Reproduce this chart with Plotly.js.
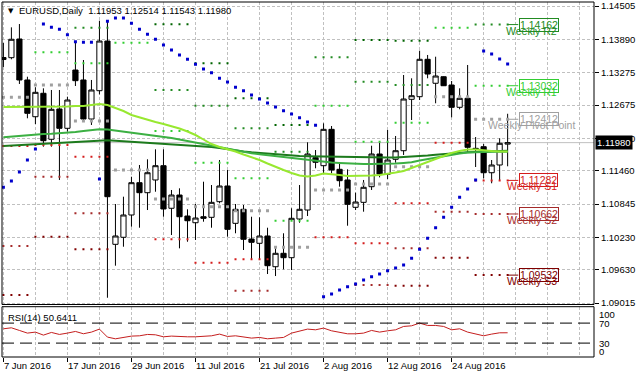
<!DOCTYPE html>
<html>
<head>
<meta charset="utf-8">
<script src="https://cdn.plot.ly/plotly-3.0.1.min.js"></script>
<style>
html,body{margin:0;padding:0;background:#fff;}
#chart{width:636px;height:379px;}
</style>
</head>
<body>
<div id="chart"></div>
<script>
// ---------------- DATA ----------------
const dates = [
 '2016-06-07','2016-06-08','2016-06-09','2016-06-10','2016-06-13','2016-06-14','2016-06-15','2016-06-16','2016-06-17',
 '2016-06-20','2016-06-21','2016-06-22','2016-06-23','2016-06-24','2016-06-27','2016-06-28','2016-06-29','2016-06-30',
 '2016-07-01','2016-07-04','2016-07-05','2016-07-06','2016-07-07','2016-07-08','2016-07-11','2016-07-12','2016-07-13',
 '2016-07-14','2016-07-15','2016-07-18','2016-07-19','2016-07-20','2016-07-21','2016-07-22','2016-07-25','2016-07-26',
 '2016-07-27','2016-07-28','2016-07-29','2016-08-01','2016-08-02','2016-08-03','2016-08-04','2016-08-05','2016-08-08',
 '2016-08-09','2016-08-10','2016-08-11','2016-08-12','2016-08-15','2016-08-16','2016-08-17','2016-08-18','2016-08-19',
 '2016-08-22','2016-08-23','2016-08-24','2016-08-25','2016-08-26','2016-08-29','2016-08-30','2016-08-31','2016-09-01',
 '2016-09-02'];

const open = [1.13516,1.13550,1.13895,1.13138,1.12459,1.12892,1.12042,1.12602,1.12245,1.13322,1.13138,1.12417,1.12940,1.13858,
 1.10101,1.10231,1.10643,1.11240,1.11055,1.11290,1.11554,1.10767,1.11012,1.10624,1.10500,1.10611,1.10600,1.10889,1.11179,
 1.10489,1.10748,1.10199,1.10120,1.10255,1.09687,1.09935,1.09854,1.10569,1.10735,1.11702,1.11554,1.12226,1.11487,1.11290,
 1.10785,1.10877,1.11166,1.11770,1.11395,1.11672,1.11831,1.12781,1.12829,1.13520,1.13077,1.13198,1.13045,1.12633,1.12799,
 1.11875,1.11905,1.11424,1.11567,1.11953];
const high = [1.13821,1.14111,1.14172,1.13198,1.13003,1.12984,1.12953,1.12953,1.12829,1.13845,1.13507,1.13138,1.14233,1.14246,
 1.10846,1.10981,1.11350,1.11567,1.11672,1.11857,1.11857,1.11105,1.11136,1.10748,1.10846,1.11258,1.11197,1.11659,1.11474,
 1.10846,1.10828,1.10611,1.10600,1.10408,1.10027,1.10305,1.10767,1.11197,1.11986,1.11844,1.12337,1.12287,1.11598,1.11487,
 1.11055,1.11290,1.11923,1.11979,1.12214,1.12103,1.13230,1.13169,1.13679,1.13600,1.13568,1.13206,1.13119,1.12984,1.13415,
 1.12084,1.11955,1.11659,1.12060,1.12514];
const low = [1.13378,1.13520,1.13064,1.12430,1.12324,1.11905,1.11905,1.11290,1.12182,1.13027,1.12367,1.12306,1.12873,1.09114,
 1.09706,1.10057,1.10427,1.10408,1.10735,1.11073,1.10611,1.10273,1.10027,1.10149,1.10181,1.10519,1.10408,1.10859,1.10242,
 1.10305,1.09996,1.09811,1.09811,1.09552,1.09515,1.09639,1.09626,1.10500,1.10624,1.11506,1.11413,1.11413,1.11166,1.10445,
 1.10735,1.10704,1.11105,1.11339,1.11308,1.11609,1.11752,1.12398,1.12768,1.13169,1.12707,1.13027,1.12448,1.12596,1.11812,
 1.11530,1.11321,1.11229,1.11290,1.11543];
const close = [1.13553,1.13890,1.13138,1.12522,1.12910,1.12016,1.12596,1.12245,1.12768,1.13125,1.12417,1.12953,1.13858,1.10981,
 1.10255,1.10643,1.11240,1.11055,1.11424,1.11554,1.10754,1.11012,1.10611,1.10537,1.10587,1.10582,1.10877,1.11179,1.10378,
 1.10748,1.10194,1.10138,1.10255,1.09706,1.09935,1.09854,1.10582,1.10748,1.11770,1.11617,1.12226,1.11474,1.11277,1.10840,
 1.10883,1.11155,1.11770,1.11400,1.11659,1.11831,1.12786,1.12847,1.13520,1.13248,1.13211,1.13032,1.12633,1.12799,1.11894,
 1.11853,1.11424,1.11567,1.11968,1.11980];

const maFast = [1.12639,1.12639,1.12639,1.12639,1.12639,1.12639,1.12639,1.12639,1.12648,1.12657,1.12657,1.12676,1.12694,1.12676,
 1.12620,1.12565,1.12491,1.12445,1.12398,1.12361,1.12324,1.12287,1.12241,1.12186,1.12121,1.12038,1.11955,1.11899,1.11862,
 1.11816,1.11761,1.11715,1.11659,1.11594,1.11530,1.11474,1.11419,1.11373,1.11354,1.11373,1.11410,1.11400,1.11382,1.11363,
 1.11363,1.11373,1.11373,1.11382,1.11400,1.11428,1.11456,1.11511,1.11567,1.11622,1.11678,1.11733,1.11789,1.11825,1.11853,
 1.11853,1.11835,1.11825,1.11816,1.11816];
const maMid = [1.12079,1.12093,1.12108,1.12121,1.12134,1.12140,1.12145,1.12153,1.12162,1.12177,1.12195,1.12214,1.12226,1.12223,
 1.12204,1.12186,1.12164,1.12149,1.12134,1.12117,1.12093,1.12066,1.12038,1.12010,1.11979,1.11946,1.11912,1.11890,1.11862,
 1.11835,1.11807,1.11785,1.11766,1.11748,1.11729,1.11711,1.11692,1.11672,1.11654,1.11635,1.11622,1.11611,1.11604,1.11594,
 1.11589,1.11585,1.11585,1.11585,1.11589,1.11594,1.11604,1.11617,1.11650,1.11678,1.11705,1.11733,1.11757,1.11779,1.11798,
 1.11807,1.11812,1.11812,1.11812,1.11812];
const maSlow = [1.11918,1.11927,1.11936,1.11946,1.11955,1.11960,1.11966,1.11973,1.11979,1.11992,1.12005,1.12016,1.12025,1.12025,
 1.12016,1.12007,1.11995,1.11986,1.11979,1.11970,1.11960,1.11951,1.11942,1.11933,1.11923,1.11912,1.11899,1.11881,1.11857,
 1.11835,1.11816,1.11801,1.11789,1.11774,1.11761,1.11752,1.11742,1.11733,1.11729,1.11726,1.11722,1.11720,1.11715,1.11709,
 1.11705,1.11702,1.11702,1.11702,1.11704,1.11707,1.11713,1.11720,1.11729,1.11742,1.11755,1.11770,1.11783,1.11794,1.11803,
 1.11809,1.11812,1.11820,1.11825,1.11831];

const sar = [1.11155,1.11271,1.11437,1.11659,1.11862,1.14172,1.14111,1.14074,1.13975,1.13845,1.13834,1.13834,1.11308,1.14222,
 1.14283,1.14283,1.14185,1.14074,1.13982,1.13890,1.13784,1.13692,1.13600,1.13520,1.13428,1.13341,1.13272,1.13169,1.13101,
 1.13003,1.12940,1.12860,1.12786,1.12713,1.12639,1.12570,1.12509,1.12441,1.12361,1.12300,1.09133,1.09183,1.09257,1.09318,
 1.09368,1.09442,1.09503,1.09552,1.09613,1.09663,1.09719,1.09843,1.10009,1.10212,1.10408,1.10600,1.10785,1.10970,1.11123,
 1.11290,1.13673,1.13618,1.13526,1.13433];

const rsi = [58.6,60.6,55.3,50.0,52.0,46.0,51.3,47.3,50.0,53.3,48.7,52.0,58.0,42.0,38.6,41.3,44.0,44.6,47.3,46.6,42.6,44.0,
 42.6,42.6,42.6,43.3,44.6,48.0,43.3,44.6,42.0,40.0,41.3,38.6,40.0,41.3,50.0,53.3,58.0,56.6,60.0,54.6,52.0,48.6,48.6,50.0,
 55.3,52.0,54.6,56.6,63.3,64.6,70.0,65.3,65.3,63.3,56.6,58.6,52.0,48.6,44.6,48.0,50.6,50.6411];

// weekly pivot levels, one value per calendar week shown (null = off the chart)
const weekR3 = [null,null,null,null,1.14167,1.13446,1.12799,1.12306,null,1.13877,1.13864,null,null];
const weekR2 = [null,null,1.14104,null,1.12953,1.12663,1.12245,1.11812,1.13557,1.13106,1.13045,null,1.14162];
const weekR1 = [null,1.13649,1.13446,1.13827,1.12195,1.11609,1.11321,1.10537,1.12663,1.11997,1.12348,1.14104,1.13032];
const weekP  = [1.12818,1.13045,1.12380,1.11474,1.10938,1.10796,1.10722,1.10046,1.11105,1.11216,1.11535,1.12829,1.12412];
const weekS1 = [1.11918,1.11936,1.11720,null,1.10194,1.09761,1.09824,null,1.10231,1.10120,1.10859,1.11979,1.11282];
const weekS2 = [1.10070,1.11350,1.10674,null,null,null,1.09244,null,null,1.09349,1.10027,1.10704,1.10662];
const weekS3 = [1.09164,1.10242,1.10009,null,null,null,null,null,null,null,1.09336,1.09854,1.09532];

const priceTicks = [1.14505,1.13890,1.13275,1.12675,1.12060,1.11460,1.10845,1.10230,1.09630,1.09015];
const tickDates = ['2016-06-07','2016-06-17','2016-06-29','2016-07-11','2016-07-21','2016-08-02','2016-08-12','2016-08-24'];
const rsiLevels = [70, 30];
const rsiScale = [100, 70, 30, 0];

// ---------------- BUILD ----------------
const idx = dates.map((d, i) => i);
const last = idx.length - 1;
const MON = ['Jan','Feb','Mar','Apr','May','Jun','Jul','Aug','Sep','Oct','Nov','Dec'];
const fmtDate = d => { const p = d.split('-'); return (+p[2]) + ' ' + MON[+p[1]-1] + ' ' + p[0]; };

const weekOf = [];
{ let w = -1, prev = null;
  dates.forEach(d => {
    const dt = new Date(d + 'T00:00:00Z');
    const mon = new Date(dt.getTime() - ((dt.getUTCDay() + 6) % 7) * 86400000).toISOString().slice(0,10);
    if (mon !== prev) { w++; prev = mon; }
    weekOf.push(w);
  });
}

const FONT = 'Liberation Sans, Arial, sans-serif';
const W = 636, H = 379, ML = 2, MR = 42, MT = 2, MB = 22;
const PX = px => (px - ML) / (W - ML - MR);
const PY = py => (H - MB - py) / (H - MT - MB);

const levelDefs = [
  {name:'Weekly R3', arr:weekR3, color:'#006400', size:2},
  {name:'Weekly R2', arr:weekR2, color:'#228b22', size:2},
  {name:'Weekly R1', arr:weekR1, color:'#32cd32', size:2},
  {name:'Weekly Pivot Point', arr:weekP, color:'#a0a0a0', size:3},
  {name:'Weekly S1', arr:weekS1, color:'#d41c1c', size:2},
  {name:'Weekly S2', arr:weekS2, color:'#a52a2a', size:2},
  {name:'Weekly S3', arr:weekS3, color:'#800000', size:2}
];

const traces = [];
traces.push({
  type:'candlestick', x: idx, open, high, low, close, xaxis:'x', yaxis:'y',
  increasing:{line:{color:'#000', width:1}, fillcolor:'#ffffff'},
  decreasing:{line:{color:'#000', width:1}, fillcolor:'#000000'},
  whiskerwidth:0, hoverinfo:'skip'
});

levelDefs.forEach(L => {
  const xs = [], ys = [];
  idx.forEach(i => { const v = L.arr[weekOf[i]]; if (v != null) { xs.push(i); ys.push(v); } });
  traces.push({type:'scatter', mode:'markers', x:xs, y:ys, xaxis:'x', yaxis:'y',
    marker:{symbol:'square', size:L.size, color:L.color, line:{width:0}}, hoverinfo:'skip'});
});

[[maSlow,'#1c7a1c'],[maMid,'#3cb043'],[maFast,'#98e830']].forEach(([arr,c]) => {
  traces.push({type:'scatter', mode:'lines', x:idx, y:arr, xaxis:'x', yaxis:'y',
    line:{color:c, width:2}, hoverinfo:'skip'});
});

traces.push({type:'scatter', mode:'markers', x:idx, y:sar, xaxis:'x', yaxis:'y',
  marker:{symbol:'square', size:3, color:'#0000cd', line:{width:0}}, hoverinfo:'skip'});

traces.push({type:'scatter', mode:'lines', x:idx, y:rsi, xaxis:'x', yaxis:'y2',
  line:{color:'#c41e1e', width:1}, hoverinfo:'skip'});

// label connector lines for the current week
const weekNow = weekOf[last];
levelDefs.forEach(L => {
  const v = L.arr[weekNow];
  if (v == null) return;
  traces.push({type:'scatter', mode:'lines', x:[last, last + 1.33], y:[v, v], xaxis:'x', yaxis:'y',
    line:{color:L.color, width:1}, hoverinfo:'skip'});
});

const annotations = [];
annotations.push({xref:'paper', yref:'paper', x:PX(6), y:PY(11), xanchor:'left', yanchor:'middle',
  text:'▼', showarrow:false, font:{family:'DejaVu Sans', size:7, color:'#000'}});
annotations.push({xref:'paper', yref:'paper', x:PX(17), y:PY(11), xanchor:'left', yanchor:'middle',
  text:'EURUSD,Daily  ' + [open[last], high[last], low[last], close[last]].map(v => v.toFixed(5)).join(' '),
  showarrow:false, font:{family:FONT, size:9.5, color:'#000'}});
annotations.push({xref:'paper', yref:'paper', x:PX(6), y:PY(317), xanchor:'left', yanchor:'middle',
  text:'RSI(14) ' + rsi[last].toFixed(4), showarrow:false, font:{family:FONT, size:9.5, color:'#000'}});

// RSI scale labels (pixel rows of the panel's right-hand scale)
const rsiLabelRow = {100:314, 70:323.3, 30:343.3, 0:351.7};
rsiScale.forEach(v => {
  annotations.push({xref:'paper', yref:'paper', x:PX(597), y:PY(rsiLabelRow[v]), xanchor:'left', yanchor:'middle',
    text:String(v), showarrow:false, font:{family:FONT, size:9.5, color:'#000'}});
});

annotations.push({xref:'paper', yref:'y', x:PX(595), y:close[last], xanchor:'left', yanchor:'middle',
  text:close[last].toFixed(5), showarrow:false, bgcolor:'#000', borderpad:1,
  font:{family:FONT, size:9.5, color:'#fff'}});

levelDefs.forEach(L => {
  const v = L.arr[weekNow];
  if (v == null) return;
  annotations.push({xref:'x', yref:'y', x:last + 3.04, y:v, yshift:-6, xanchor:'center', yanchor:'middle',
    text:L.name, showarrow:false, font:{family:FONT, size:10.5, color:L.color}});
  annotations.push({xref:'x', yref:'y', x:last + 3.87, y:v, xanchor:'center', yanchor:'middle',
    text:v.toFixed(5), showarrow:false, bordercolor:L.color, borderwidth:1, borderpad:0,
    font:{family:FONT, size:10.5, color:L.color}});
});

const shapes = [];
shapes.push({type:'line', xref:'x domain', yref:'y', x0:0, x1:1, y0:close[last], y1:close[last],
  line:{color:'#c0c0c0', width:1}, layer:'below'});
rsiLevels.forEach(v => shapes.push({type:'line', xref:'x domain', yref:'y2', x0:0, x1:1, y0:v, y1:v,
  line:{color:'#000', width:1, dash:'12px,6px'}, layer:'above'}));
shapes.push({type:'rect', xref:'x domain', yref:'y domain', x0:0, x1:1, y0:0, y1:1, line:{color:'#000', width:1}, layer:'above'});
shapes.push({type:'rect', xref:'x domain', yref:'y2 domain', x0:0, x1:1, y0:0, y1:1, line:{color:'#000', width:1}, layer:'above'});

const tickIdx = tickDates.map(d => dates.indexOf(d));
const layout = {
  width:W, height:H, margin:{l:ML, r:MR, t:MT, b:MB, pad:0},
  paper_bgcolor:'#fff', plot_bgcolor:'#fff', showlegend:false, hovermode:false, dragmode:false,
  boxgap:0.35, boxgroupgap:0,
  xaxis:{
    domain:[0,1], anchor:'y2', range:[-0.175, 73.79], rangeslider:{visible:false},
    tickmode:'array', tickvals:tickIdx, ticktext:tickDates.map(fmtDate),
    ticks:'outside', ticklen:4, tickcolor:'#000', tickwidth:1, ticklabelposition:'outside right',
    tickfont:{family:FONT, size:9.5, color:'#000'},
    showgrid:true, gridcolor:'#c0c0c0', griddash:'3px,2px', gridwidth:1,
    minor:{tickmode:'linear', tick0:0, dtick:4, showgrid:true, gridcolor:'#c0c0c0', griddash:'3px,2px', gridwidth:1, ticks:''},
    zeroline:false, showline:false, fixedrange:true
  },
  yaxis:{
    domain:[(H-MB-304.5)/(H-MT-MB), 1], anchor:'x', side:'right', range:[1.08989, 1.14579],
    tickmode:'array', tickvals:priceTicks, ticktext:priceTicks.map(v => v.toFixed(5)),
    ticks:'outside', ticklen:4, tickcolor:'#000', tickwidth:1,
    tickfont:{family:FONT, size:9.5, color:'#000'},
    showgrid:true, gridcolor:'#c0c0c0', griddash:'3px,2px', gridwidth:1,
    zeroline:false, showline:false, fixedrange:true
  },
  yaxis2:{
    domain:[0, (H-MB-306.7)/(H-MT-MB)], anchor:'x', side:'right', range:[2.2, 102.8],
    showticklabels:false, ticks:'', showgrid:false, zeroline:false, showline:false, fixedrange:true
  },
  annotations, shapes
};

Plotly.newPlot('chart', traces, layout, {staticPlot:true, displayModeBar:false});
</script>
</body>
</html>
